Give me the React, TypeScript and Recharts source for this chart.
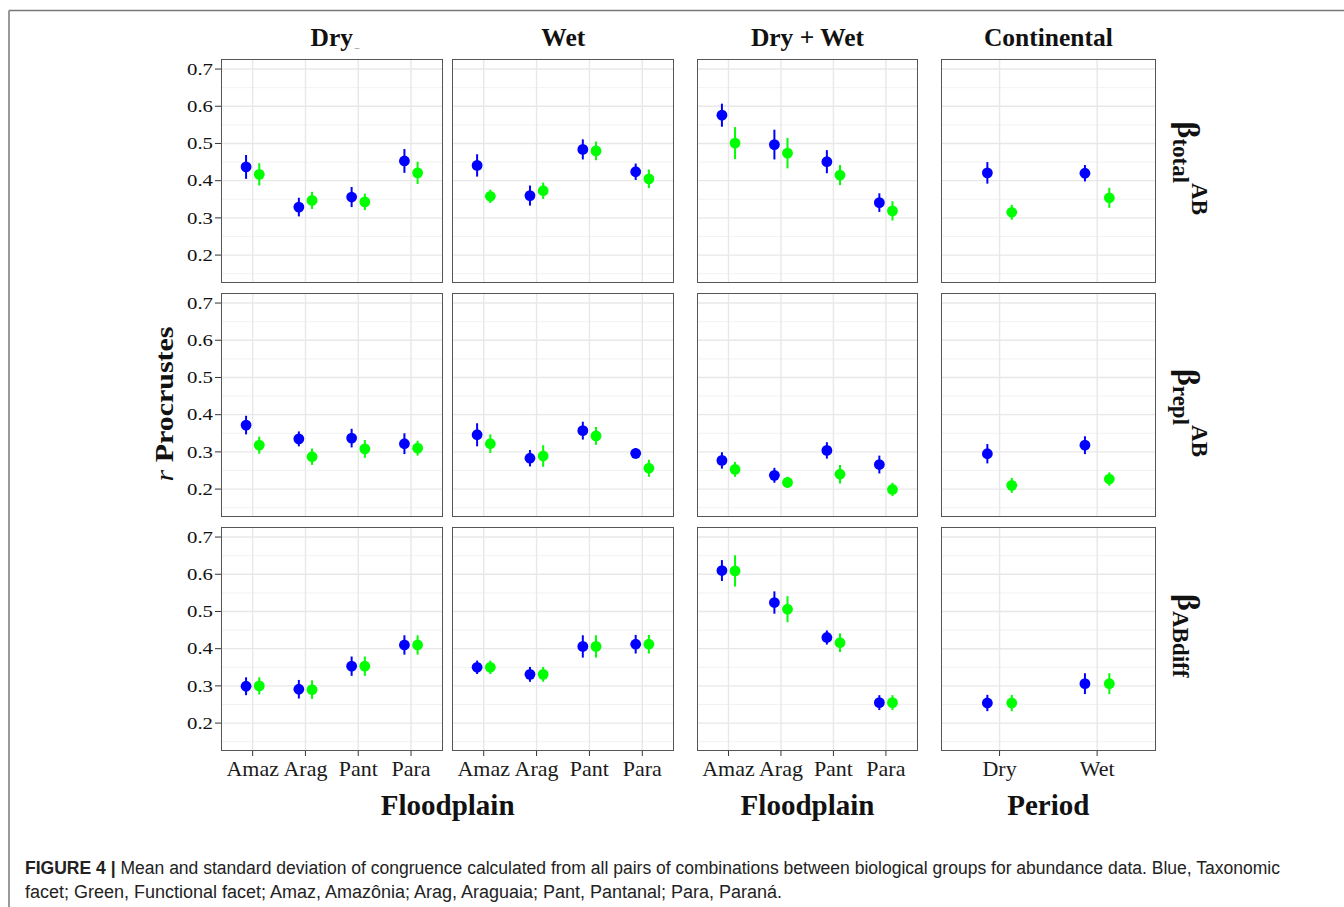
import React from "react";
import { ScatterChart, Scatter, XAxis, YAxis, CartesianGrid, ErrorBar } from "recharts";

const floodplains = ["Amaz", "Arag", "Pant", "Para"];
const periods = ["Dry", "Wet"];
const columnTitles = ["Dry", "Wet", "Dry + Wet", "Continental"];
const xTitles = ["Floodplain", "Floodplain", "Period"];
const yTicks = [0.2, 0.3, 0.4, 0.5, 0.6, 0.7];
const yMinor = [0.15, 0.25, 0.35, 0.45, 0.55, 0.65];

// [mean, sd] per category. Tax = blue (taxonomic facet), Fun = green (functional facet)
const totalDryTax = [[0.437, 0.032], [0.329, 0.025], [0.356, 0.027], [0.453, 0.032]];
const totalDryFun = [[0.417, 0.03], [0.347, 0.023], [0.343, 0.022], [0.421, 0.03]];
const totalWetTax = [[0.441, 0.03], [0.36, 0.027], [0.484, 0.027], [0.424, 0.022]];
const totalWetFun = [[0.358, 0.018], [0.373, 0.022], [0.48, 0.025], [0.405, 0.025]];
const totalBothTax = [[0.576, 0.031], [0.497, 0.04], [0.451, 0.031], [0.341, 0.025]];
const totalBothFun = [[0.501, 0.043], [0.474, 0.041], [0.415, 0.027], [0.319, 0.026]];
const totalContTax = [[0.421, 0.029], [0.42, 0.022]];
const totalContFun = [[0.315, 0.02], [0.354, 0.027]];

const replDryTax = [[0.372, 0.025], [0.335, 0.02], [0.337, 0.025], [0.322, 0.028]];
const replDryFun = [[0.318, 0.023], [0.287, 0.022], [0.308, 0.024], [0.31, 0.02]];
const replWetTax = [[0.346, 0.031], [0.283, 0.022], [0.357, 0.024], [0.296, 0.014]];
const replWetFun = [[0.322, 0.025], [0.289, 0.029], [0.343, 0.024], [0.256, 0.023]];
const replBothTax = [[0.277, 0.022], [0.237, 0.02], [0.304, 0.022], [0.266, 0.024]];
const replBothFun = [[0.253, 0.02], [0.218, 0.015], [0.24, 0.025], [0.199, 0.018]];
const replContTax = [[0.295, 0.026], [0.318, 0.024]];
const replContFun = [[0.21, 0.02], [0.227, 0.018]];

const diffDryTax = [[0.299, 0.024], [0.291, 0.025], [0.353, 0.026], [0.41, 0.026]];
const diffDryFun = [[0.3, 0.023], [0.29, 0.025], [0.353, 0.026], [0.41, 0.026]];
const diffWetTax = [[0.35, 0.018], [0.331, 0.02], [0.406, 0.03], [0.412, 0.025]];
const diffWetFun = [[0.35, 0.018], [0.331, 0.02], [0.406, 0.03], [0.412, 0.025]];
const diffBothTax = [[0.61, 0.028], [0.524, 0.03], [0.43, 0.019], [0.255, 0.02]];
const diffBothFun = [[0.609, 0.042], [0.506, 0.035], [0.416, 0.025], [0.255, 0.02]];
const diffContTax = [[0.254, 0.022], [0.306, 0.028]];
const diffContFun = [[0.254, 0.022], [0.306, 0.028]];

const rows = [
  [[totalDryTax, totalDryFun], [totalWetTax, totalWetFun], [totalBothTax, totalBothFun], [totalContTax, totalContFun]],
  [[replDryTax, replDryFun], [replWetTax, replWetFun], [replBothTax, replBothFun], [replContTax, replContFun]],
  [[diffDryTax, diffDryFun], [diffWetTax, diffWetFun], [diffBothTax, diffBothFun], [diffContTax, diffContFun]],
];

const BLUE = "#0000ff";
const GREEN = "#00ff00";
const SERIF = "'Liberation Serif', 'DejaVu Serif', serif";
const SANS = "'Liberation Sans', Arial, sans-serif";

const COL_X = [221, 452.3, 697.3, 941];
const COL_W = [221.7, 222, 220.4, 214.7];
const ROW_Y = [59.3, 293, 526.7];
const PANEL_H = 224;
const DODGE = 0.125;

function YTick({ x, y, payload }: any) {
  return (
    <g transform={`translate(${x},${y})`}>
      <text textAnchor="end" dy="0.36em" fontSize={16} fill="#111" fontFamily={SERIF} transform="scale(1.3,1)">
        {Number(payload.value).toFixed(1)}
      </text>
    </g>
  );
}

const dot = (color: string) => (props: any) => <circle cx={props.cx} cy={props.cy} r={5.4} fill={color} />;

function Panel({ cats, tax, fun, col, row }: { cats: string[]; tax: number[][]; fun: number[][]; col: number; row: number }) {
  const showY = col === 0;
  const showX = row === 2;
  const yW = showY ? 62 : 0;
  const xH = showX ? 44 : 0;
  const width = COL_W[col];
  const idx = cats.map((_, i) => i);
  const taxData = tax.map(([m, sd], i) => ({ x: i - DODGE, y: m, err: sd }));
  const funData = fun.map(([m, sd], i) => ({ x: i + DODGE, y: m, err: sd }));

  return (
    <div style={{ position: "absolute", left: COL_X[col] - yW, top: ROW_Y[row], width: width + yW, height: PANEL_H + xH }}>
      <ScatterChart width={width + yW} height={PANEL_H + xH} margin={{ top: 0, right: 0, bottom: 0, left: 0 }}>
        <CartesianGrid horizontalValues={yMinor} vertical={false} stroke="#f0f0f0" strokeWidth={0.9} />
        <CartesianGrid horizontalValues={yTicks} verticalValues={idx} stroke="#e8e8e8" strokeWidth={1.4} />
        <XAxis
          type="number"
          dataKey="x"
          domain={[-0.6, cats.length - 0.4]}
          ticks={idx}
          tickFormatter={(v: number) => cats[Math.round(v)]}
          hide={!showX}
          height={xH}
          axisLine={false}
          tickLine={{ stroke: "#333" }}
          tickSize={5}
          tickMargin={4}
          interval={0}
          tick={{ fontSize: 22, fill: "#1a1a1a", fontFamily: SERIF }}
        />
        <YAxis
          type="number"
          dataKey="y"
          domain={[0.125, 0.727]}
          ticks={yTicks}
          hide={!showY}
          width={yW}
          axisLine={false}
          tickLine={{ stroke: "#333" }}
          tickSize={6}
          tickMargin={2}
          tick={<YTick />}
        />
        <Scatter data={taxData} shape={dot(BLUE)} isAnimationActive={false}>
          <ErrorBar dataKey="err" direction="y" width={0} stroke={BLUE} strokeWidth={2} />
        </Scatter>
        <Scatter data={funData} shape={dot(GREEN)} isAnimationActive={false}>
          <ErrorBar dataKey="err" direction="y" width={0} stroke={GREEN} strokeWidth={2} />
        </Scatter>
      </ScatterChart>
      <div
        style={{
          position: "absolute",
          left: yW,
          top: 0,
          width,
          height: PANEL_H,
          border: "1px solid #555",
          boxSizing: "border-box",
          pointerEvents: "none",
        }}
      />
    </div>
  );
}

const stripLabels = [
  { main: "β", sub: "total", sup: "AB" },
  { main: "β", sub: "repl", sup: "AB" },
  { main: "β", sub: "ABdiff", sup: "" },
];

export default function App() {
  const colCenter = COL_X.map((x, i) => x + COL_W[i] / 2);
  const xTitleX = [(COL_X[0] + COL_X[1] + COL_W[1]) / 2, colCenter[2], colCenter[3]];

  return (
    <div style={{ position: "absolute", left: 0, top: 0, width: 1344, height: 907, background: "#fff", overflow: "hidden" }}>
      <svg width={1344} height={907} style={{ position: "absolute", left: 0, top: 0 }}>
        <line x1={9} y1={10.5} x2={1344} y2={10.5} stroke="#777" strokeWidth={1.5} />
        <line x1={9} y1={10.5} x2={9} y2={907} stroke="#777" strokeWidth={1.5} />
        {columnTitles.map((t, i) => (
          <text key={t} x={colCenter[i]} y={46} textAnchor="middle" fontFamily={SERIF} fontWeight="bold" fontSize={25.5} fill="#111">
            {t}
          </text>
        ))}
        <text x={357} y={48} textAnchor="middle" fontFamily={SERIF} fontSize={9} fill="#444">_</text>
        {xTitles.map((t, i) => (
          <text key={i} x={xTitleX[i]} y={815} textAnchor="middle" fontFamily={SERIF} fontWeight="bold" fontSize={29} fill="#111">
            {t}
          </text>
        ))}
        <text
          transform="translate(173,404) rotate(-90)"
          textAnchor="middle"
          fontFamily={SERIF}
          fontSize={25}
          fill="#111"
          textLength={155}
          lengthAdjust="spacingAndGlyphs"
        >
          <tspan fontStyle="italic">r</tspan>
          <tspan fontWeight="bold"> Procrustes</tspan>
        </text>
        {stripLabels.map((s, i) => (
          <text
            key={i}
            transform={`translate(1178,${ROW_Y[i] + PANEL_H / 2 + (i === 1 ? 8 : -3)}) rotate(90)`}
            textAnchor="middle"
            fontFamily={SERIF}
            fontWeight="bold"
            fill="#111"
          >
            <tspan fontSize={32}>{s.main}</tspan>
            <tspan fontSize={23} dy={5}>{s.sub}</tspan>
            {s.sup && (
              <tspan fontSize={23} dy={-19}>
                {s.sup}
              </tspan>
            )}
          </text>
        ))}
        <text x={25} y={874} fontFamily={SANS} fontSize={18} fill="#222" textLength={1255} lengthAdjust="spacingAndGlyphs">
          <tspan fontWeight="bold">FIGURE 4 | </tspan>
          <tspan>
            Mean and standard deviation of congruence calculated from all pairs of combinations between biological groups for abundance data. Blue, Taxonomic
          </tspan>
        </text>
        <text x={25} y={898} fontFamily={SANS} fontSize={18} fill="#222" textLength={757} lengthAdjust="spacingAndGlyphs">
          facet; Green, Functional facet; Amaz, Amazônia; Arag, Araguaia; Pant, Pantanal; Para, Paraná.
        </text>
      </svg>
      {rows.map((cols, r) =>
        cols.map(([tax, fun], c) => (
          <Panel key={`${r}-${c}`} cats={c === 3 ? periods : floodplains} tax={tax} fun={fun} col={c} row={r} />
        ))
      )}
    </div>
  );
}
